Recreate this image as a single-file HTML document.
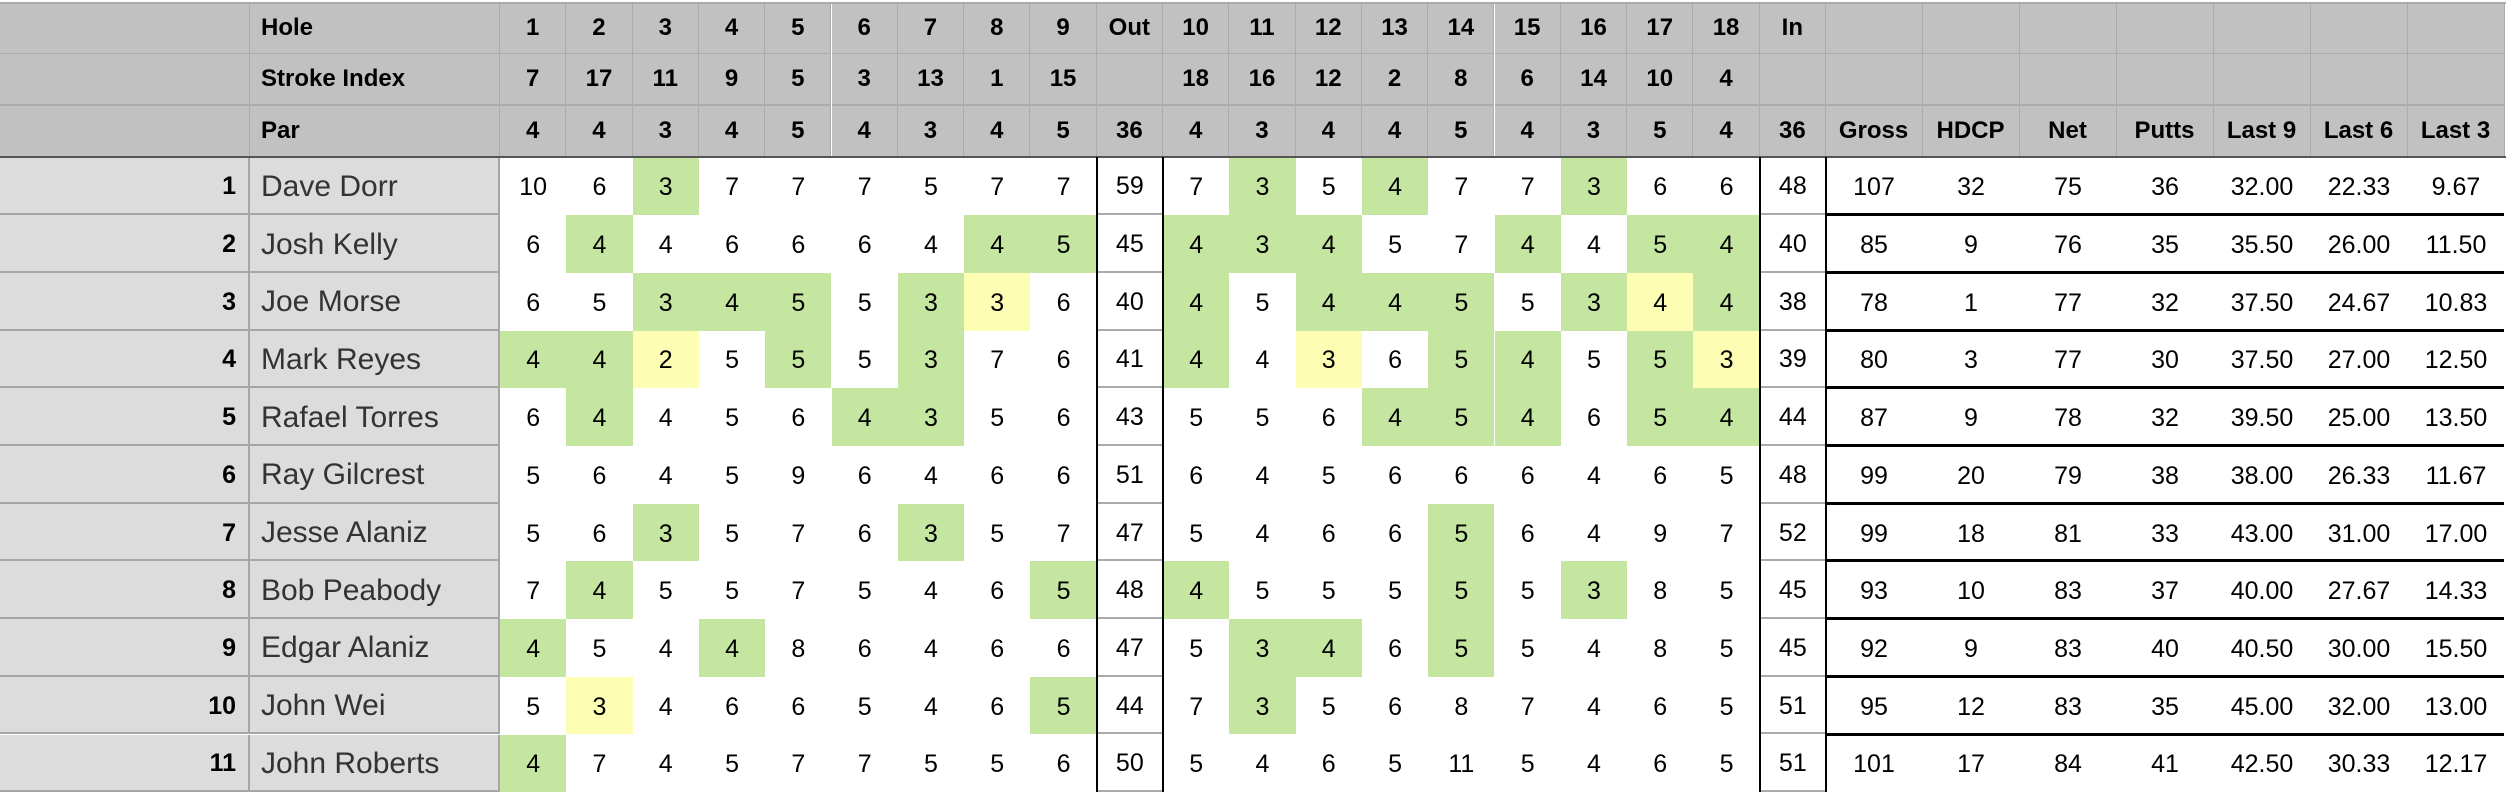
<!DOCTYPE html>
<html><head><meta charset="utf-8">
<style>
html,body{margin:0;padding:0;background:#fff;}
#sheet{position:relative;width:2506px;height:792px;overflow:hidden;font-family:"Liberation Sans",Arial,sans-serif;background:#fff;}
.c{position:absolute;box-sizing:border-box;display:flex;align-items:center;justify-content:center;white-space:nowrap;}
.h{background:#c0c1c0;font-weight:bold;font-size:24px;color:#000;border-right:1px solid #aaabaa;border-bottom:2px solid #aaabaa;}
.d{font-size:25px;color:#000;padding-top:3px;}
.g{background:#dcdcdc;border-right:2px solid #a6a6a6;border-bottom:2px solid #a6a6a6;padding-top:3px;}
.ln{position:absolute;}
</style></head>
<body>
<div id="sheet"></div>
<script>
const holes = ["1","2","3","4","5","6","7","8","9","Out","10","11","12","13","14","15","16","17","18","In"];
const strokeIndex = ["7","17","11","9","5","3","13","1","15","","18","16","12","2","8","6","14","10","4",""];
const par = [4,4,3,4,5,4,3,4,5,36,4,3,4,4,5,4,3,5,4,36];
const statHeaders = ["Gross","HDCP","Net","Putts","Last 9","Last 6","Last 3"];
const players = ["Dave Dorr","Josh Kelly","Joe Morse","Mark Reyes","Rafael Torres","Ray Gilcrest","Jesse Alaniz","Bob Peabody","Edgar Alaniz","John Wei","John Roberts"];
const front = [
[10,6,3,7,7,7,5,7,7],[6,4,4,6,6,6,4,4,5],[6,5,3,4,5,5,3,3,6],[4,4,2,5,5,5,3,7,6],
[6,4,4,5,6,4,3,5,6],[5,6,4,5,9,6,4,6,6],[5,6,3,5,7,6,3,5,7],[7,4,5,5,7,5,4,6,5],
[4,5,4,4,8,6,4,6,6],[5,3,4,6,6,5,4,6,5],[4,7,4,5,7,7,5,5,6]];
const outTotals = [59,45,40,41,43,51,47,48,47,44,50];
const back = [
[7,3,5,4,7,7,3,6,6],[4,3,4,5,7,4,4,5,4],[4,5,4,4,5,5,3,4,4],[4,4,3,6,5,4,5,5,3],
[5,5,6,4,5,4,6,5,4],[6,4,5,6,6,6,4,6,5],[5,4,6,6,5,6,4,9,7],[4,5,5,5,5,5,3,8,5],
[5,3,4,6,5,5,4,8,5],[7,3,5,6,8,7,4,6,5],[5,4,6,5,11,5,4,6,5]];
const inTotals = [48,40,38,39,44,48,52,45,45,51,51];
const gross = [107,85,78,80,87,99,99,93,92,95,101];
const hdcp = [32,9,1,3,9,20,18,10,9,12,17];
const net = [75,76,77,77,78,79,81,83,83,83,84];
const putts = [36,35,32,30,32,38,33,37,40,35,41];
const last9 = ["32.00","35.50","37.50","37.50","39.50","38.00","43.00","40.00","40.50","45.00","42.50"];
const last6 = ["22.33","26.00","24.67","27.00","25.00","26.33","31.00","27.67","30.00","32.00","30.33"];
const last3 = ["9.67","11.50","10.83","12.50","13.50","11.67","17.00","14.33","15.50","13.00","12.17"];

const S = document.getElementById('sheet');
const holeX0 = 500, holeW = 66.3, statX0 = 1825.5, statW = 97;
const hdrY = [3,54,106], hdrH = 51.5, dataY0 = 157.5, rowH = 57.7;
function colX(i){ return holeX0 + i*holeW; }
function rowY(r){ return dataY0 + r*rowH; }
function cell(x,y,w,h,cls,txt,name){
  const d=document.createElement('div');
  d.className='c '+cls;
  d.style.left=x+'px';d.style.top=y+'px';d.style.width=w+'px';d.style.height=h+'px';
  d.textContent=txt;
  
  
  S.appendChild(d);return d;
}
function line(x,y,w,h,col,name){
  const d=document.createElement('div');
  d.className='ln';
  d.style.left=x+'px';d.style.top=y+'px';d.style.width=w+'px';d.style.height=h+'px';d.style.background=col;
  
  
  S.appendChild(d);
}
const hdrLabels=["Hole","Stroke Index","Par"];
for(let r=0;r<3;r++){
  cell(0,hdrY[r],250,hdrH,'h','', 'header-corner');
  const l=cell(250,hdrY[r],250,hdrH,'h',hdrLabels[r],'header-label');
  l.style.justifyContent='flex-start';l.style.paddingLeft='11px';
  const rowVals=[holes,strokeIndex,par][r];
  for(let i=0;i<20;i++) cell(colX(i),hdrY[r],holeW,hdrH,'h',String(rowVals[i]),'header-hole-cell');
  for(let j=0;j<7;j++) cell(statX0+j*statW,hdrY[r],statW,hdrH,'h',r===2?statHeaders[j]:'','header-stat-cell');
}
line(0,2,2506,2,'#aaabaa','top-border');
line(0,156,2506,2,'#555','header-bottom-border');
for(let r=0;r<players.length;r++){
  const y=rowY(r);
  const n=cell(0,y,250,rowH,'g',String(r+1),'row-number');
  n.style.justifyContent='flex-end';n.style.paddingRight='12px';n.style.fontWeight='bold';n.style.fontSize='25px';
  const p=cell(250,y,250,rowH,'g',players[r],'player-name');
  p.style.justifyContent='flex-start';p.style.paddingLeft='11px';p.style.fontSize='30px';p.style.color='#333';
  const vals=[...front[r],outTotals[r],...back[r],inTotals[r]];
  for(let i=0;i<20;i++){
    const c=cell(colX(i),y,holeW,rowH,'d',String(vals[i]),'score-cell');
    if(i!==9&&i!==19){
      if(vals[i]===par[i]) c.style.background='#c4e6a0';
      else if(vals[i]<par[i]) c.style.background='#fefdb4';
    } else {
      c.style.borderBottom='2px solid #aaa';
    }
  }
  const stats=[gross[r],hdcp[r],net[r],putts[r],last9[r],last6[r],last3[r]];
  for(let j=0;j<7;j++) cell(statX0+j*statW,y,statW,rowH,'d',String(stats[j]),'stat-cell');
  if(r<players.length-1) line(statX0,y+rowH-2,2504-statX0,3,'#000','stat-row-border');
}
line(colX(9)-1,157,2,635,'#000','out-left-border');
line(colX(10)-1,157,2,635,'#000','out-right-border');
line(colX(19)-1,157,2,635,'#000','in-left-border');
line(colX(20)-1,157,2,635,'#000','in-right-border');
</script>
</body></html>
